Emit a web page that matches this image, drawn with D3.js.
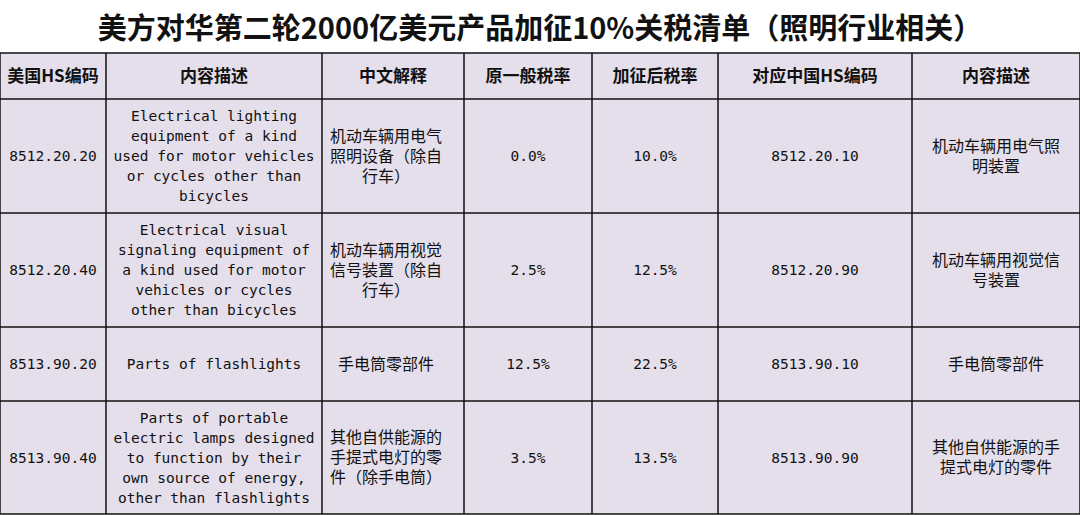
<!DOCTYPE html><html><head><meta charset="utf-8"><script src="https://cdn.jsdelivr.net/npm/d3@7"></script>
<style>body{margin:0;background:#fff}</style></head><body><svg id="c" width="1080" height="515"></svg>
<script>
const title="美方对华第二轮2000亿美元产品加征10%关税清单（照明行业相关）";
const headers=["美国HS编码","内容描述","中文解释","原一般税率","加征后税率","对应中国HS编码","内容描述"];
const usCodes=["8512.20.20","8512.20.40","8513.90.20","8513.90.40"];
const descEn=[["Electrical lighting","equipment of a kind","used for motor vehicles","or cycles other than","bicycles"],
["Electrical visual","signaling equipment of","a kind used for motor","vehicles or cycles","other than bicycles"],
["Parts of flashlights"],
["Parts of portable","electric lamps designed","to function by their","own source of energy,","other than flashlights"]];
const descCn=[["机动车辆用电气","照明设备（除自","行车）"],["机动车辆用视觉","信号装置（除自","行车）"],["手电筒零部件"],["其他自供能源的","手提式电灯的零","件（除手电筒）"]];
const baseRate=["0.0%","2.5%","12.5%","3.5%"];
const newRate=["10.0%","12.5%","22.5%","13.5%"];
const cnCodes=["8512.20.10","8512.20.90","8513.90.10","8513.90.90"];
const cnDesc=[["机动车辆用电气照","明装置"],["机动车辆用视觉信","号装置"],["手电筒零部件"],["其他自供能源的手","提式电灯的零件"]];
const colEdges=[0,106,322,464,592,718,912,1080];
const rowEdges=[53,99,213,327,401,514];
const svg=d3.select("#c");
svg.append("rect").attr("x",0).attr("y",0).attr("width",1080).attr("height",515).attr("fill","#fff");
svg.append("text").attr("x",540).attr("y",39).attr("text-anchor","middle").attr("font-family","'Noto Sans CJK SC',serif").attr("font-weight","bold").attr("font-size",29).attr("fill","#111").text(title);
svg.append("rect").attr("x",0).attr("y",rowEdges[0]).attr("width",1080).attr("height",rowEdges[5]-rowEdges[0]).attr("fill","#e5dfeb");
const rows=[headers.map(h=>[h])];
for(let i=0;i<4;i++)rows.push([[usCodes[i]],descEn[i],descCn[i],[baseRate[i]],[newRate[i]],[cnCodes[i]],cnDesc[i]]);
rows.forEach((r,ri)=>{
  const y0=rowEdges[ri],y1=rowEdges[ri+1];
  r.forEach((lines,ci)=>{
    const x0=colEdges[ci],x1=colEdges[ci+1];
    const isEn=ri>0&&ci==1, isCnWrap=ri>0&&ci==2;
    const lh=20;
    const cx=isCnWrap?x0+64:(x0+x1)/2;
    const cy=(y0+y1)/2;
    lines.forEach((t,li)=>{
      const num=/^[\d.%]+$/.test(t);
      svg.append("text").attr("x",cx).attr("y",cy+(li-(lines.length-1)/2)*lh).attr("dy","0.36em")
        .attr("text-anchor","middle")
        .attr("font-family",ri==0?"'Noto Sans CJK SC',serif":(isEn||num?"'DejaVu Sans Mono',monospace":"'Noto Sans CJK SC',sans-serif"))
        .attr("font-weight",ri==0?"bold":"normal")
        .attr("font-size",ri==0?17:(isEn||num?14.5:16)).attr("fill","#111").text(t);
    });
  });
});
rowEdges.forEach(y=>svg.append("line").attr("x1",0).attr("x2",1080).attr("y1",y).attr("y2",y).attr("stroke","#111").attr("stroke-width",1.5));
colEdges.forEach(x=>svg.append("line").attr("x1",x).attr("x2",x).attr("y1",rowEdges[0]).attr("y2",rowEdges[5]).attr("stroke","#111").attr("stroke-width",1.5));
</script></body></html>
